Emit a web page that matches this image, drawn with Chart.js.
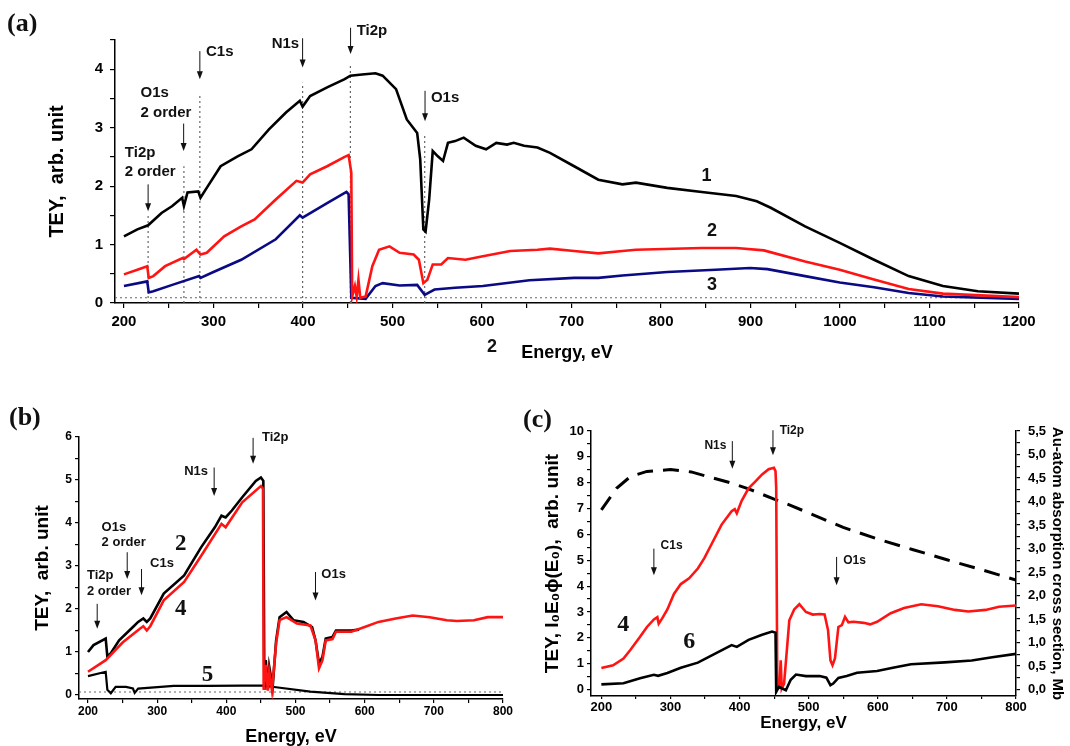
<!DOCTYPE html>
<html>
<head>
<meta charset="utf-8">
<script src="https://cdn.jsdelivr.net/npm/chart.js@4.4.1/dist/chart.umd.min.js"></script>
<style>
  body { margin: 0; background: #fff; }
  #wrap { position: relative; width: 1070px; height: 746px; overflow: hidden; background: #fff; }
  canvas { position: absolute; }
</style>
</head>
<body>
<div id="wrap">
  <canvas id="chartA" width="1070" height="375" style="left:0;top:0"></canvas>
  <canvas id="chartB" width="520" height="346" style="left:0;top:400px"></canvas>
  <canvas id="chartC" width="550" height="346" style="left:520px;top:400px"></canvas>
</div>
<script>
// ---------- panel (a): TEY vs energy, samples 1-3 ----------
const curveA1 = [[200,1.14],[215,1.26],[227,1.33],[242,1.54],[254,1.66],[265,1.80],[267,1.66],[271,1.89],[283,1.91],[285.5,1.80],[292.5,1.97],[308,2.34],[327,2.51],[342.5,2.63],[362,2.97],[381,3.26],[396.5,3.46],[399.6,3.36],[408,3.54],[427,3.69],[446.6,3.83],[453,3.89],[466,3.91],[481,3.93],[489,3.89],[504,3.66],[516,3.14],[527.6,2.91],[531,2.46],[534.5,1.26],[537,1.22],[541,1.77],[545,2.60],[550.7,2.51],[556.5,2.43],[562,2.74],[570,2.77],[579.6,2.83],[593,2.69],[604.6,2.63],[616,2.74],[628,2.71],[635.5,2.74],[647,2.69],[662,2.66],[676,2.57],[703,2.34],[730,2.11],[757,2.03],[772,2.06],[807,1.97],[845.6,1.90],[884,1.83],[907,1.74],[922.6,1.63],[961,1.31],[999.7,1.03],[1038,0.74],[1076.7,0.46],[1115,0.29],[1154,0.20],[1200,0.16]];
const curveA2 = [[200,0.49],[215,0.57],[226,0.63],[227.7,0.43],[232.8,0.46],[246,0.63],[265.5,0.77],[267,0.75],[281,0.91],[285.5,0.83],[292.5,0.86],[312,1.14],[331,1.31],[346,1.43],[369.6,1.77],[392.7,2.09],[399.6,2.06],[408,2.20],[427,2.34],[446.6,2.50],[451,2.53],[454,2.23],[455,0.11],[458,0.29],[460,0.11],[462,0.40],[464,0.09],[470,0.11],[477.5,0.63],[485,0.91],[496.7,0.97],[508,0.86],[523.7,0.83],[529.5,0.74],[534.5,0.34],[539,0.40],[545,0.66],[554.5,0.66],[562,0.77],[581.5,0.74],[601,0.80],[631.6,0.89],[662,0.91],[676,0.93],[703,0.89],[730,0.85],[757,0.89],[772,0.91],[845.6,0.94],[884,0.94],[915,0.90],[961,0.71],[999.7,0.57],[1038,0.40],[1076.7,0.24],[1115,0.16],[1200,0.10]];
const curveA3 = [[200,0.29],[226,0.37],[227.7,0.18],[232.8,0.20],[254,0.31],[284,0.46],[285.5,0.43],[300,0.53],[331,0.74],[369.6,1.09],[396.5,1.50],[399.6,1.46],[427,1.71],[448.6,1.90],[451,1.86],[454,0.09],[470,0.07],[481,0.29],[489,0.34],[508,0.30],[527.6,0.31],[536,0.14],[547,0.23],[570,0.26],[601,0.29],[653,0.39],[703,0.43],[730,0.43],[757,0.47],[807,0.53],[861,0.57],[899.5,0.60],[919,0.58],[961,0.46],[999.7,0.35],[1038,0.27],[1076.7,0.17],[1115,0.11],[1200,0.07]];
// edges marked by dotted lines: [energy, height]
const edgesA = [[227,1.54],[267,2.34],[284.8,3.57],[399.6,3.77],[453,4.06],[536,2.86]];
const baseA = 0.09;
const xMajorA = [200,300,400,500,600,700,800,900,1000,1100,1200];
const xMinorA = [250,350,450,550,650,750,850,950,1050,1150];
const yMajorA = [0,1,2,3,4];
const yMinorA = [0.5,1.5,2.5,3.5,4.5];

// ---------- panel (b): samples 2, 4, 5 ----------
const curveB2 = [[200,1.00],[208,1.16],[225.6,1.31],[228,0.89],[233,0.97],[245,1.27],[265,1.58],[272.5,1.70],[280,1.78],[285,1.70],[290,1.78],[309.5,2.36],[339,2.78],[363.7,3.44],[383.4,3.90],[393,4.17],[399,4.13],[408,4.29],[423,4.60],[442.6,4.98],[450,5.06],[453.5,4.98],[455,0.12],[457,0.81],[460,0.12],[462,0.66],[467,0.19],[472,1.27],[477,1.81],[487,1.93],[497,1.74],[511.6,1.70],[524,1.58],[529,1.27],[534,0.73],[539,0.89],[543.7,1.31],[553.5,1.35],[558.5,1.50],[566,1.50],[580.7,1.50],[592,1.52]];
const curveB4 = [[200,0.54],[225.6,0.81],[250,1.22],[275,1.54],[280,1.60],[285,1.50],[290,1.60],[309.5,2.20],[339,2.63],[363.7,3.24],[393,3.98],[399,3.90],[423,4.48],[450,4.86],[453,4.80],[454,0.12],[457,0.70],[460,0.10],[462,0.55],[466,0.10],[472,1.20],[477,1.74],[487,1.81],[502,1.66],[521.5,1.62],[529,1.27],[534,0.62],[539,0.81],[543.7,1.27],[553.5,1.30],[558.5,1.47],[580.7,1.47],[600,1.58],[620,1.70],[644.8,1.78],[669.4,1.85],[694,1.81],[718.7,1.74],[733.5,1.72],[758,1.74],[778,1.81],[800,1.81]];
const curveB5 = [[200,0.44],[225.6,0.54],[228,0.12],[233,0.04],[240,0.19],[255,0.19],[265,0.15],[267.5,0.05],[272.5,0.15],[324,0.21],[373.6,0.21],[423,0.22],[452.5,0.22],[472,0.18],[521.5,0.08],[570.8,0.02],[620,0.00],[800,0.00]];
const baseB = 0.07;
const xMajorB = [200,300,400,500,600,700,800];
const xMinorB = [250,350,450,550,650,750];
const yMajorB = [0,1,2,3,4,5,6];
const yMinorB = [0.5,1.5,2.5,3.5,4.5,5.5];

// ---------- panel (c): samples 4, 6 and Au cross section ----------
const curveC4 = [[200,0.83],[217,0.94],[232,1.20],[241.6,1.52],[256,2.04],[266,2.42],[276,2.71],[281,2.80],[283,2.55],[288,2.75],[295.5,3.10],[305,3.70],[315,4.08],[327,4.30],[339.6,4.68],[349,5.08],[359,5.60],[374,6.38],[388.5,6.90],[393,6.98],[396,6.82],[403,7.30],[413,7.78],[423,8.05],[432.6,8.32],[442,8.52],[449.7,8.58],[452,8.45],[453,7.80],[454.6,0.04],[458,0.23],[459.5,1.13],[461,0.04],[464.4,0.23],[472,2.68],[479,3.10],[486.5,3.30],[496,3.00],[506,2.90],[516,2.92],[523,2.90],[528,2.30],[531.5,1.13],[534.5,0.94],[538,1.20],[543,2.42],[548,2.49],[552.6,2.81],[557.5,2.60],[565,2.62],[579.5,2.58],[589,2.52],[599,2.62],[618.7,2.95],[638,3.15],[662.8,3.30],[687,3.22],[711.7,3.08],[731,3.02],[756,3.08],[775.4,3.20],[800,3.25]];
const curveC6 = [[200,0.20],[232,0.24],[256,0.44],[276,0.57],[282,0.53],[295.5,0.64],[315,0.84],[339.6,1.04],[364,1.38],[388.5,1.72],[396,1.65],[413,1.92],[432.6,2.12],[447,2.24],[452,2.20],[453,-0.09],[457,0.10],[462,0.04],[467,-0.03],[474,0.38],[481.6,0.58],[496,0.52],[516,0.52],[525.6,0.46],[531.5,0.17],[535.5,0.23],[543,0.45],[555,0.52],[570,0.65],[599,0.72],[623.6,0.85],[648,0.98],[697,1.05],[736,1.12],[765.6,1.25],[800,1.38]];
const curveCau = [[200,3.82],[222,4.28],[242,4.53],[266,4.64],[300,4.68],[330,4.63],[354,4.53],[384,4.41],[413,4.27],[450,4.05],[472,3.93],[501,3.75],[550,3.45],[600,3.20],[650,2.98],[700,2.76],[750,2.55],[800,2.33]];
const xMajorC = [200,300,400,500,600,700,800];
const xMinorC = [250,350,450,550,650,750];
const yMajorC = [0,1,2,3,4,5,6,7,8,9,10];
const yMinorC = [0.5,1.5,2.5,3.5,4.5,5.5,6.5,7.5,8.5,9.5];
const y2MajorC = [0,0.5,1,1.5,2,2.5,3,3.5,4,4.5,5,5.5];
const y2MinorC = [0.25,0.75,1.25,1.75,2.25,2.75,3.25,3.75,4.25,4.75,5.25];

const SANS = '"Liberation Sans", Arial, sans-serif';
const SERIF = '"Liberation Serif", "Times New Roman", serif';
const RED = '#ff1414';
const NAVY = '#0a0a84';

function pts(arr) {
    return arr.map(p => ({ x: p[0], y: p[1] }));
}

function line(data, color, width, extra) {
    return Object.assign({
        data: pts(data),
        borderColor: color,
        borderWidth: width,
        pointRadius: 0,
        fill: false,
        tension: 0,
        order: 1
    }, extra || {});
}

function dotted(data) {
    return line(data, '#666', 1.2, { borderDash: [2, 3], order: 10 });
}

function axis(o) {
    const all = o.major.concat(o.minor).sort((a, b) => a - b);
    return {
        type: 'linear',
        position: o.position,
        min: o.min,
        max: o.max,
        afterBuildTicks: s => { s.ticks = all.map(v => ({ value: v })); },
        afterFit: s => { if (s.isHorizontal()) s.height = o.size; else s.width = o.size; },
        grid: { display: true, drawOnChartArea: false, drawTicks: true, tickLength: o.tickLen, color: '#000', lineWidth: 1.2 },
        border: { display: true, color: '#000', width: 1.5 },
        ticks: {
            autoSkip: false,
            maxRotation: 0,
            padding: o.pad,
            color: '#000',
            font: { family: SANS, size: o.font, weight: 'bold', lineHeight: 1 },
            callback: v => o.major.includes(v) ? (o.fmt ? o.fmt(v) : String(v)) : ''
        },
        title: {
            display: true,
            text: o.title,
            color: '#000',
            font: { family: SANS, size: o.titleSize, weight: 'bold', lineHeight: 1 },
            padding: o.titlePad
        }
    };
}

// arrows, text labels and curve numbers drawn over the plot
function notes(id, n) {
    return {
        id: id,
        afterDatasetsDraw(chart) {
            const ctx = chart.ctx, xs = chart.scales.x, ys = chart.scales.y;
            ctx.save();
            ctx.strokeStyle = '#111';
            ctx.fillStyle = '#111';
            ctx.lineWidth = 1;
            for (const [e, from, to] of n.arrows) {
                const x = xs.getPixelForValue(e);
                const y0 = ys.getPixelForValue(from), y1 = ys.getPixelForValue(to);
                ctx.beginPath(); ctx.moveTo(x, y0); ctx.lineTo(x, y1 - 5); ctx.stroke();
                ctx.beginPath(); ctx.moveTo(x - 3, y1 - 8); ctx.lineTo(x + 3, y1 - 8); ctx.lineTo(x, y1); ctx.closePath(); ctx.fill();
            }
            ctx.textBaseline = 'middle';
            ctx.font = n.labelFont;
            for (const [e, v, t, align] of n.labels) {
                ctx.textAlign = align || 'left';
                ctx.fillText(t, xs.getPixelForValue(e), ys.getPixelForValue(v));
            }
            ctx.font = n.numFont;
            ctx.textAlign = 'center';
            for (const [e, v, t] of n.nums) {
                ctx.fillText(t, xs.getPixelForValue(e), ys.getPixelForValue(v));
            }
            ctx.font = 'bold 26px ' + SERIF;
            ctx.textAlign = 'left';
            ctx.fillText(n.panel[0], n.panel[1], n.panel[2]);
            if (n.extra) {
                ctx.font = n.extra.font;
                ctx.fillText(n.extra.text, n.extra.x, n.extra.y);
            }
            ctx.restore();
        }
    };
}

const common = {
    responsive: false,
    animation: false,
    devicePixelRatio: 1,
    plugins: { legend: { display: false }, tooltip: { enabled: false } }
};

// ---------- chart (a) ----------
const dsA = [
    line(curveA2, RED, 2.6, { order: 1 }),
    line(curveA3, NAVY, 2.6, { order: 2 }),
    line(curveA1, '#000', 2.6, { order: 3 }),
    dotted([[190, baseA], [1200, baseA]])
];
edgesA.forEach(e => dsA.push(dotted([[e[0], 0], [e[0], e[1]]])));

new Chart(document.getElementById('chartA'), {
    type: 'line',
    data: { datasets: dsA },
    options: Object.assign({}, common, {
        layout: { padding: { left: 0, top: 40, right: 51, bottom: 0 } },
        scales: {
            x: axis({ position: 'bottom', min: 190, max: 1200, major: xMajorA, minor: xMinorA, size: 72, tickLen: 5, pad: 6, font: 15,
                title: 'Energy, eV', titleSize: 18, titlePad: { top: 0, bottom: 13 } }),
            y: axis({ position: 'left', min: 0, max: 4.5, major: yMajorA, minor: yMinorA, size: 115, tickLen: 5, pad: 7, font: 15,
                title: 'TEY,  arb. unit', titleSize: 20, titlePad: { top: 47, bottom: 0 } })
        }
    }),
    plugins: [notes('notesA', {
        arrows: [[227, 2.03, 1.57], [266.7, 3.07, 2.6], [284.8, 4.31, 3.83], [399.6, 4.53, 4.03], [453.2, 4.71, 4.26], [536.4, 3.63, 3.11]],
        labels: [[201, 2.57, 'Ti2p'], [201, 2.24, '2 order'], [218.5, 3.6, 'O1s'], [218.5, 3.26, '2 order'], [291.7, 4.3, 'C1s'],
                 [395.8, 4.44, 'N1s', 'right'], [460, 4.65, 'Ti2p'], [543, 3.51, 'O1s']],
        labelFont: 'bold 15px ' + SANS,
        nums: [[851, 2.17, '1'], [857, 1.23, '2'], [857, 0.31, '3']],
        numFont: 'bold 18px ' + SANS,
        panel: ['(a)', 7, 24],
        extra: { text: '2', x: 487, y: 347, font: 'bold 18px ' + SANS }
    })]
});

// ---------- chart (b) ----------
new Chart(document.getElementById('chartB'), {
    type: 'line',
    data: {
        datasets: [
            line(curveB4, RED, 2.6, { order: 1 }),
            line(curveB2, '#000', 2.6, { order: 2 }),
            line(curveB5, '#000', 2.2, { order: 3 }),
            dotted([[187, baseB], [800, baseB]])
        ]
    },
    options: Object.assign({}, common, {
        layout: { padding: { left: 0, top: 37, right: 17, bottom: 0 } },
        scales: {
            x: axis({ position: 'bottom', min: 187, max: 800, major: xMajorB, minor: xMinorB, size: 47, tickLen: 4, pad: 3, font: 12,
                title: 'Energy, eV', titleSize: 18, titlePad: { top: 0, bottom: 0 } }),
            y: axis({ position: 'left', min: -0.093, max: 6, major: yMajorB, minor: yMinorB, size: 79, tickLen: 4, pad: 3, font: 12,
                title: 'TEY,  arb. unit', titleSize: 19, titlePad: { top: 33.5, bottom: 0 } })
        }
    }),
    plugins: [notes('notesB', {
        arrows: [[213.3, 2.12, 1.54], [256.7, 3.32, 2.7], [277.4, 2.93, 2.32], [382.4, 5.29, 4.63], [438.7, 5.98, 5.38], [528.9, 2.86, 2.2]],
        labels: [[198.5, 2.78, 'Ti2p'], [198.5, 2.41, '2 order'], [219.7, 3.9, 'O1s'], [219.7, 3.55, '2 order'], [289.7, 3.05, 'C1s'],
                 [339, 5.21, 'N1s'], [451.5, 6.0, 'Ti2p'], [537.3, 2.8, 'O1s']],
        labelFont: 'bold 13px ' + SANS,
        nums: [[334, 3.51, '2'], [334, 2.0, '4'], [372.6, 0.46, '5']],
        numFont: 'bold 23px ' + SERIF,
        panel: ['(b)', 9, 18]
    })]
});

// ---------- chart (c) ----------
new Chart(document.getElementById('chartC'), {
    type: 'line',
    data: {
        datasets: [
            line(curveC4, RED, 2.6, { order: 2 }),
            line(curveC6, '#000', 2.6, { order: 1 }),
            line(curveCau, '#000', 3, { order: 3, borderDash: [16, 10], yAxisID: 'y2' })
        ]
    },
    options: Object.assign({}, common, {
        layout: { padding: { left: 20, top: 31, right: 0, bottom: 0 } },
        scales: {
            x: axis({ position: 'bottom', min: 185, max: 800, major: xMajorC, minor: xMinorC, size: 50, tickLen: 3, pad: 2, font: 13,
                title: 'Energy, eV', titleSize: 17, titlePad: { top: 0, bottom: 14 } }),
            y: axis({ position: 'left', min: -0.25, max: 10, major: yMajorC, minor: yMinorC, size: 51, tickLen: 4, pad: 3, font: 13,
                title: 'TEY, I\u2080E\u2080\u03D5(E\u2080),  arb. unit', titleSize: 19, titlePad: { top: 3.5, bottom: 0 } }),
            y2: axis({ position: 'right', min: -0.1375, max: 5.5, major: y2MajorC, minor: y2MinorC, size: 54, tickLen: 4, pad: 8, font: 13,
                fmt: v => v.toFixed(1).replace('.', ','),
                title: 'Au-atom absorption cross section, Mb', titleSize: 15, titlePad: { top: 5, bottom: 0 } })
        }
    }),
    plugins: [notes('notesC', {
        arrows: [[389.5, 9.61, 8.54], [448.3, 10.03, 9.06], [276, 5.45, 4.42], [540.4, 5.13, 4.03]],
        labels: [[381, 9.45, 'N1s', 'right'], [458, 10.03, 'Ti2p'], [285.7, 5.58, 'C1s'], [550, 5.0, 'O1s']],
        labelFont: 'bold 12px ' + SANS,
        nums: [[231.8, 2.49, '4'], [327.3, 1.84, '6']],
        numFont: 'bold 24px ' + SERIF,
        panel: ['(c)', 3, 20]
    })]
});
</script>
</body>
</html>
